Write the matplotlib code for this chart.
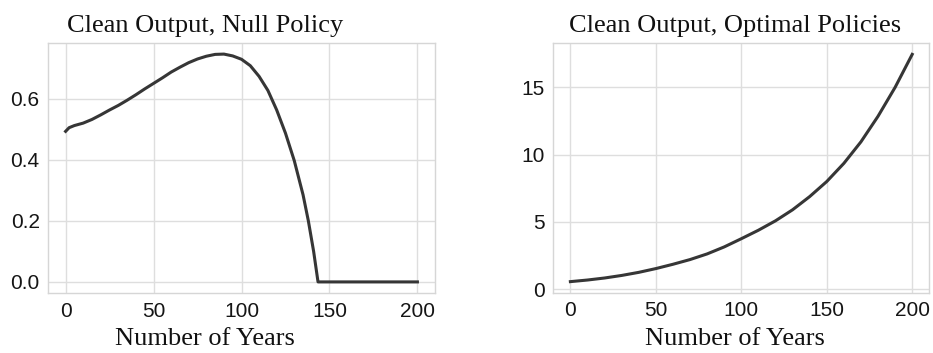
import matplotlib
matplotlib.use("Agg")
import matplotlib.pyplot as plt

plt.rcParams["font.family"] = ["Liberation Sans", "DejaVu Sans"]

# Left panel: Clean Output, Null Policy
years_null = [0, 2, 5, 10, 15, 20, 25, 30, 35, 40, 45, 50, 55, 60, 65, 70, 75, 80,
              85, 90, 95, 100, 105, 110, 115, 120, 125, 130, 135, 138, 141, 143.5, 150,
              160, 170, 180, 190, 200]
clean_null = [0.493, 0.505, 0.512, 0.520, 0.532, 0.547, 0.563, 0.578, 0.595, 0.613,
              0.632, 0.650, 0.668, 0.687, 0.703, 0.718, 0.730, 0.739, 0.745, 0.746,
              0.740, 0.729, 0.708, 0.673, 0.627, 0.563, 0.487, 0.397, 0.285, 0.200,
              0.100, 0.0, 0.0, 0.0, 0.0, 0.0, 0.0, 0.0]

# Right panel: Clean Output, Optimal Policies
years_opt = [0, 10, 20, 30, 40, 50, 60, 70, 80, 90, 100, 110, 120, 130, 140, 150,
             160, 170, 180, 190, 200]
clean_opt = [0.56, 0.68, 0.83, 1.02, 1.25, 1.53, 1.85, 2.20, 2.62, 3.14, 3.75, 4.38,
             5.08, 5.90, 6.88, 8.00, 9.35, 10.95, 12.85, 15.00, 17.45]

titles = ["Clean Output, Null Policy", "Clean Output, Optimal Policies"]
xlabel = "Number of Years"
xticks = [0, 50, 100, 150, 200]
yticks_left = [0.0, 0.2, 0.4, 0.6]
yticks_right = [0, 5, 10, 15]

W, H = 933, 353
fig = plt.figure(figsize=(W / 100, H / 100), dpi=100)

grid_c = "#dedede"
spine_c = "#d6d6d6"
line_c = "#363636"

def make_ax(px_left, px_right, px_top, px_bottom):
    ax = fig.add_axes([px_left / W, 1 - px_bottom / H,
                       (px_right - px_left) / W, (px_bottom - px_top) / H])
    for s in ax.spines.values():
        s.set_color(spine_c)
        s.set_linewidth(1.0)
    ax.grid(True, color=grid_c, linewidth=1.0)
    ax.set_axisbelow(True)
    ax.tick_params(length=0, pad=6, labelsize=15, labelcolor="#151515")
    return ax

ax1 = make_ax(48, 435, 42.7, 293.3)
ax1.plot(years_null, clean_null, color=line_c, linewidth=2.2)
ax1.set_xticks(xticks)
ax1.set_yticks(yticks_left)
ax1.yaxis.set_major_formatter(plt.FormatStrFormatter("%.1f"))

ax2 = make_ax(553.3, 929.3, 43, 293)
ax2.plot(years_opt, clean_opt, color=line_c, linewidth=2.2)
ax2.set_xticks(xticks)
ax2.set_yticks(yticks_right)

serif = "Liberation Serif"
for cx, t in zip([205, 735], titles):
    fig.text(cx / W, 1 - 31.7 / H, t, ha="center", va="baseline",
             fontsize=19, fontfamily=serif, color="#111111")
    fig.text(cx / W, 1 - 345 / H, xlabel, ha="center", va="baseline",
             fontsize=19, fontfamily=serif, color="#111111")

fig.savefig("out.png", dpi=100)
